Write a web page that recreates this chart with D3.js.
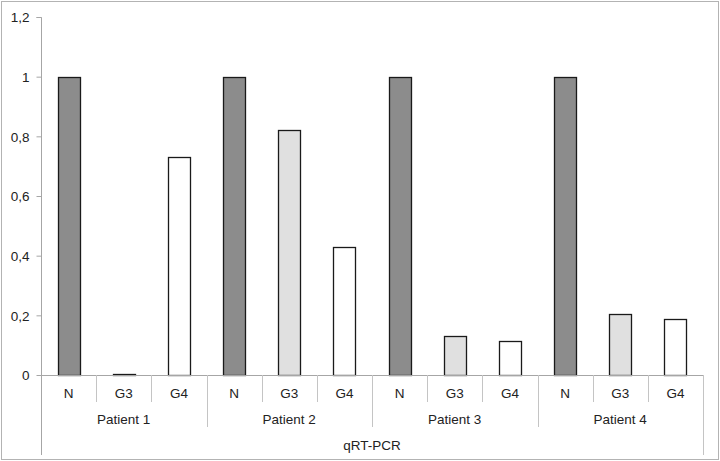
<!DOCTYPE html>
<html><head><meta charset="utf-8">
<script src="https://cdn.jsdelivr.net/npm/d3@7/dist/d3.min.js"></script>
<style>body{margin:0;background:#fff}svg{display:block}text{font-family:"Liberation Sans",Arial,sans-serif;fill:#222}</style>
</head><body><svg id="c" width="720" height="461"></svg>
<script>
const patients = ["Patient 1","Patient 2","Patient 3","Patient 4"];
const samples = ["N","G3","G4"];
const valN  = [1, 1, 1, 1];
const valG3 = [0.005, 0.82, 0.13, 0.203];
const valG4 = [0.73, 0.43, 0.115, 0.188];
const yTicks = [0, 0.2, 0.4, 0.6, 0.8, 1, 1.2];
const yTickLabels = ["0","0,2","0,4","0,6","0,8","1","1,2"];
const groupLabel = "qRT-PCR";

const fills = {N:"#8c8c8c", G3:"#e0e0e0", G4:"#ffffff"};
const series = {N:valN, G3:valG3, G4:valG4};

const svg = d3.select("#c");
const L = 41, R = 703, T = 17, B = 375;
const axisCol = "#a6a6a6";

svg.append("rect").attr("x",1.5).attr("y",1.5).attr("width",717).attr("height",458)
  .attr("fill","#fff").attr("stroke","#b3b3b3").attr("stroke-width",1);

const cats = [];
patients.forEach((p,i)=>samples.forEach(s=>cats.push({p, s, v: series[s][i], key:p+"|"+s})));

const x = d3.scaleBand().domain(cats.map(d=>d.key)).range([L,R]).paddingInner(0).paddingOuter(0);
const y = d3.scaleLinear().domain([0,1.2]).range([B,T]);

// y axis
const yAxis = d3.axisLeft(y).tickValues(yTicks).tickFormat((d,i)=>yTickLabels[i]).tickSize(5).tickPadding(7);
const ya = svg.append("g").attr("transform",`translate(${L+0.5},0)`).call(yAxis);
ya.select(".domain").attr("stroke",axisCol).attr("d",`M-5,${T+0.5}H0V${B}`);
ya.selectAll(".tick line").attr("stroke",axisCol);
ya.selectAll(".tick text").style("font-size","13.5px").attr("fill","#222").attr("dy","0.35em");
ya.selectAll("text").style("font-family","Liberation Sans, Arial, sans-serif");

// bars
const bw = 22;
svg.append("g").selectAll("rect").data(cats).join("rect")
  .attr("x",d=>Math.round(x(d.key)+x.bandwidth()/2-bw/2)+0.5)
  .attr("y",d=>Math.round(y(d.v))+0.5)
  .attr("width",bw)
  .attr("height",d=>Math.max(0,Math.round(B)-Math.round(y(d.v))))
  .attr("fill",d=>fills[d.s]).attr("stroke","#1a1a1a").attr("stroke-width",1.3);

// x axis line
svg.append("line").attr("x1",L).attr("x2",R).attr("y1",B+0.5).attr("y2",B+0.5).attr("stroke",axisCol);

// category separators and labels
const g = svg.append("g");
cats.forEach((d,i)=>{
  const x0 = x(d.key);
  g.append("text").attr("x",x0+x.bandwidth()/2).attr("y",398).attr("text-anchor","middle")
    .style("font-size","13.5px").text(d.s);
  if(i%3!==0){
    g.append("line").attr("x1",Math.round(x0)+0.5).attr("x2",Math.round(x0)+0.5).attr("y1",B).attr("y2",402).attr("stroke","#c4c4c4");
  }
});
patients.forEach((p,i)=>{
  const x0 = x(p+"|N"), x1 = x(p+"|G4")+x.bandwidth();
  g.append("text").attr("x",(x0+x1)/2).attr("y",424).attr("text-anchor","middle").style("font-size","13.5px").text(p);
  if(i>0) g.append("line").attr("x1",Math.round(x0)+0.5).attr("x2",Math.round(x0)+0.5).attr("y1",B).attr("y2",427).attr("stroke","#c4c4c4");
});
g.append("line").attr("x1",L+0.5).attr("x2",L+0.5).attr("y1",B).attr("y2",455).attr("stroke",axisCol);
g.append("line").attr("x1",R+0.5).attr("x2",R+0.5).attr("y1",B).attr("y2",455).attr("stroke","#c4c4c4");
g.append("text").attr("x",(L+R)/2).attr("y",450).attr("text-anchor","middle").style("font-size","13.5px").text(groupLabel);
</script></body></html>
